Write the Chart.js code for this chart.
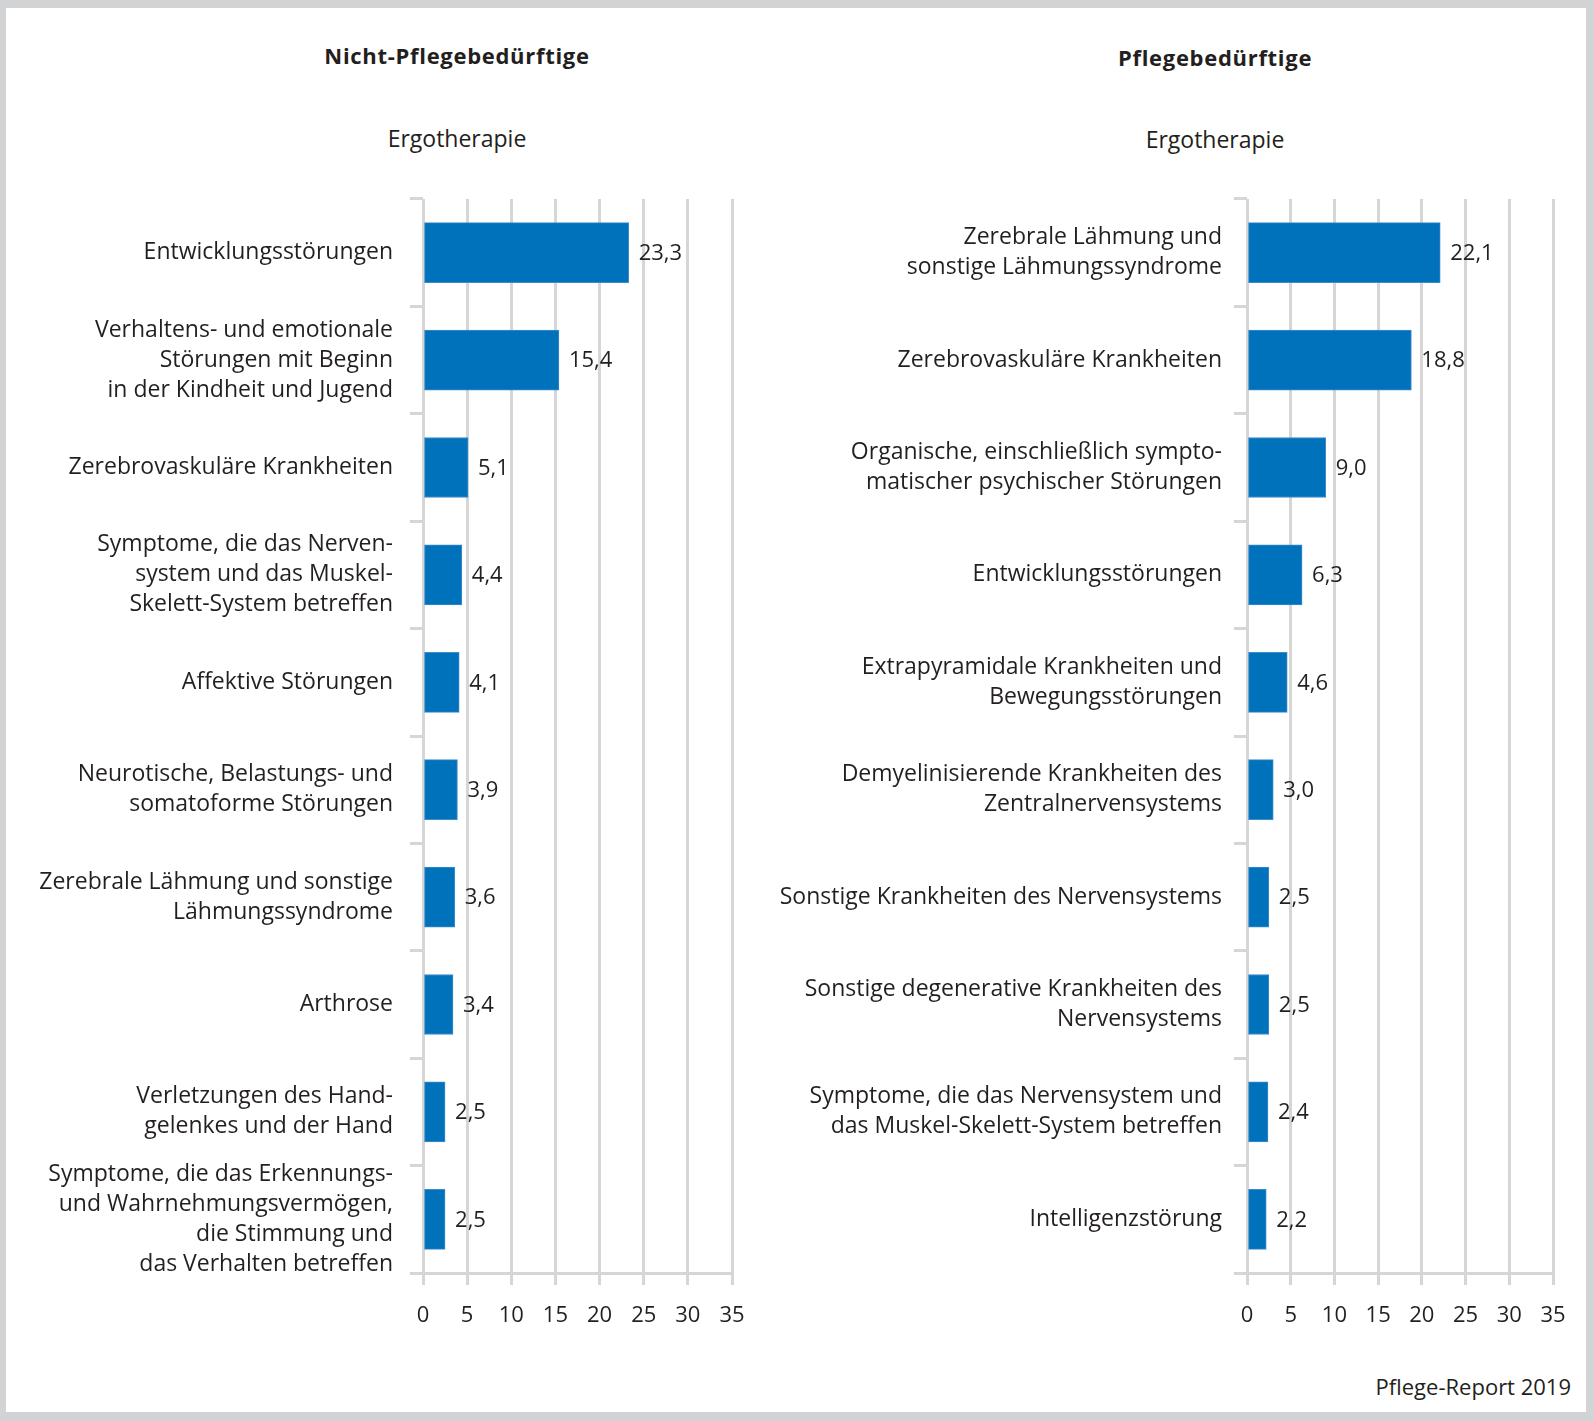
<!DOCTYPE html>
<html lang="de">
<head>
<meta charset="utf-8">
<title>Ergotherapie – Pflege-Report 2019</title>
<script src="https://cdn.jsdelivr.net/npm/chart.js@4.4.1/dist/chart.umd.min.js"></script>
<style>
  html, body { margin: 0; padding: 0; }
  body { width: 1594px; height: 1421px; background: #d1d3d4; position: relative; overflow: hidden;
         font-family: "Open Sans", "Noto Sans", sans-serif; color: #231f20; }
  #frame { position: absolute; left: 6px; top: 8px; width: 1580px; height: 1404px; background: #ffffff; }
  .t { position: absolute; white-space: nowrap; font-size: 23px; line-height: 23px; transform: translateX(-50%); }
  .b { font-weight: 700; font-size: 22px; line-height: 22px; letter-spacing: 0.7px; }
  canvas { position: absolute; top: 0; }
  #src { position: absolute; right: 23px; top: 1375px; font-size: 22px; line-height: 22px; white-space: nowrap; }
</style>
</head>
<body>
<div id="frame"></div>
<div class="t b" style="left:457px; top:44px;">Nicht-Pflegebedürftige</div>
<div class="t" style="left:457px; top:127px;">Ergotherapie</div>
<div class="t b" style="left:1215px; top:46px;">Pflegebedürftige</div>
<div class="t" style="left:1215px; top:128px;">Ergotherapie</div>
<div id="src">Pflege-Report 2019</div>
<canvas id="left" width="770" height="1360" style="left:0px; width:770px; height:1360px;"></canvas>
<canvas id="right" width="834" height="1360" style="left:760px; width:834px; height:1360px;"></canvas>
<script>
// ---- Data ----
const leftCategories = [
  "Entwicklungsstörungen",
  ["Verhaltens- und emotionale", "Störungen mit Beginn", "in der Kindheit und Jugend"],
  "Zerebrovaskuläre Krankheiten",
  ["Symptome, die das Nerven-", "system und das Muskel-", "Skelett-System betreffen"],
  "Affektive Störungen",
  ["Neurotische, Belastungs- und", "somatoforme Störungen"],
  ["Zerebrale Lähmung und sonstige", "Lähmungssyndrome"],
  "Arthrose",
  ["Verletzungen des Hand-", "gelenkes und der Hand"],
  ["Symptome, die das Erkennungs-", "und Wahrnehmungsvermögen,", "die Stimmung und", "das Verhalten betreffen"]
];
const leftValues = [23.3, 15.4, 5.1, 4.4, 4.1, 3.9, 3.6, 3.4, 2.5, 2.5];

const rightCategories = [
  ["Zerebrale Lähmung und", "sonstige Lähmungssyndrome"],
  "Zerebrovaskuläre Krankheiten",
  ["Organische, einschließlich sympto-", "matischer psychischer Störungen"],
  "Entwicklungsstörungen",
  ["Extrapyramidale Krankheiten und", "Bewegungsstörungen"],
  ["Demyelinisierende Krankheiten des", "Zentralnervensystems"],
  "Sonstige Krankheiten des Nervensystems",
  ["Sonstige degenerative Krankheiten des", "Nervensystems"],
  ["Symptome, die das Nervensystem und", "das Muskel-Skelett-System betreffen"],
  "Intelligenzstörung"
];
const rightValues = [22.1, 18.8, 9.0, 6.3, 4.6, 3.0, 2.5, 2.5, 2.4, 2.2];

const xTickValues = [0, 5, 10, 15, 20, 25, 30, 35];

// ---- Styles ----
const FONT = '"Open Sans", "Noto Sans", sans-serif';
const TEXT = '#231f20';
const GRID = '#d6d6d6';
const BAR = '#0071bb';

function fmt(v) { return v.toFixed(1).replace('.', ','); }

const valueLabels = {
  id: 'valueLabels',
  afterDatasetsDraw(chart) {
    const ctx = chart.ctx;
    const meta = chart.getDatasetMeta(0);
    const data = chart.data.datasets[0].data;
    ctx.save();
    ctx.font = '22px ' + FONT;
    ctx.fillStyle = TEXT;
    ctx.textAlign = 'left';
    ctx.textBaseline = 'middle';
    meta.data.forEach((bar, i) => {
      ctx.fillText(fmt(data[i]), bar.x + 10, bar.y + 1);
    });
    ctx.restore();
  }
};

function makeChart(id, cats, vals, yWidth, padRight, labelPad) {
  return new Chart(document.getElementById(id), {
    type: 'bar',
    data: {
      labels: cats,
      datasets: [{
        data: vals,
        backgroundColor: BAR,
        borderColor: '#3f8ccb',
        borderWidth: 1,
        borderSkipped: false,
        barThickness: 60
      }]
    },
    options: {
      indexAxis: 'y',
      responsive: false,
      animation: false,
      events: [],
      layout: { padding: { top: 199, right: padRight, bottom: 0, left: 0 } },
      plugins: { legend: { display: false }, tooltip: { enabled: false }, title: { display: false } },
      scales: {
        x: {
          type: 'linear',
          min: xTickValues[0],
          max: xTickValues[xTickValues.length - 1],
          afterBuildTicks(scale) { scale.ticks = xTickValues.map(v => ({ value: v })); },
          afterFit(scale) { scale.height = 87; },
          grid: { color: GRID, lineWidth: 3, tickLength: 12, drawTicks: true },
          border: { display: true, color: GRID, width: 3 },
          ticks: {
            color: TEXT,
            font: { family: FONT, size: 22, lineHeight: 1.2 },
            padding: 18,
            maxRotation: 0,
            autoSkip: false
          }
        },
        y: {
          afterFit(scale) { scale.width = yWidth; },
          grid: { color: GRID, lineWidth: 3, tickLength: 13, drawOnChartArea: false, drawTicks: true, offset: true },
          border: { display: false },
          ticks: {
            color: TEXT,
            font: { family: FONT, size: 23, lineHeight: 30 / 23 },
            padding: labelPad,
            autoSkip: false
          }
        }
      }
    },
    plugins: [valueLabels]
  });
}

function draw() {
  makeChart('left', leftCategories, leftValues, 423, 38, 17);
  makeChart('right', rightCategories, rightValues, 487, 41, 12);
}
if (document.fonts && document.fonts.load) {
  Promise.all([
    document.fonts.load('23px "Open Sans"'),
    document.fonts.load('bold 22px "Open Sans"')
  ]).then(draw, draw);
} else { draw(); }
</script>
</body>
</html>
